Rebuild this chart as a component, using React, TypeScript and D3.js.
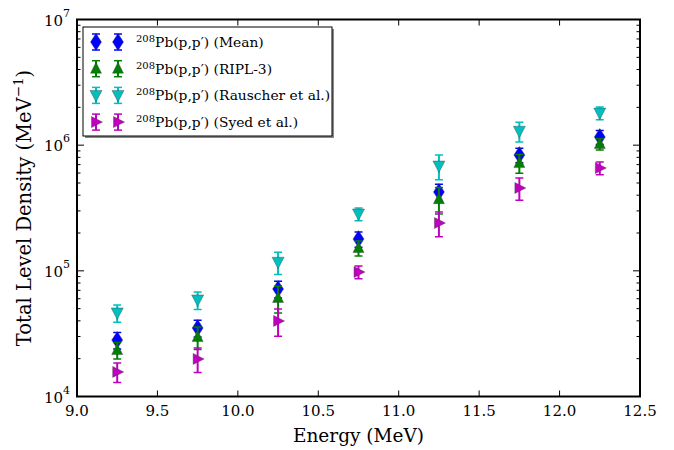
import React from 'react';
import * as d3 from 'd3';

const energies = [9.25, 9.75, 10.25, 10.75, 11.25, 11.75, 12.25];
const meanValues = [28100, 35100, 71700, 179000, 424000, 834000, 1160000];
const meanErrors = [4200, 5300, 11000, 25000, 65000, 110000, 150000];
const riplValues = [23400, 29700, 60800, 152000, 372000, 720000, 1020000];
const riplErrors = [3500, 6000, 14600, 21000, 89000, 122000, 106000];
const rauscherValues = [46200, 58600, 117000, 283000, 682000, 1290000, 1800000];
const rauscherErrors = [7300, 9300, 23400, 33000, 152000, 232000, 209000];
const syedValues = [15700, 19900, 39900, 97800, 240000, 456000, 658000];
const syedErrors = [2800, 4400, 9800, 11300, 53500, 91000, 76000];
const seriesLabels = ['(Mean)', '(RIPL-3)', '(Rauscher et al.)', '(Syed et al.)'];
const xTicks = [9.0, 9.5, 10.0, 10.5, 11.0, 11.5, 12.0, 12.5];
const yExponents = [4, 5, 6, 7];

type Shape = 'thin_diamond' | 'up' | 'down' | 'right';

function markerPath(shape: Shape, cx: number, cy: number): string {
  const p = d3.path();
  if (shape === 'thin_diamond') {
    p.moveTo(cx, cy - 8.5); p.lineTo(cx + 5.5, cy); p.lineTo(cx, cy + 8.5); p.lineTo(cx - 5.5, cy); p.closePath();
  } else if (shape === 'up') {
    p.moveTo(cx, cy - 6.5); p.lineTo(cx + 5.5, cy + 4.5); p.lineTo(cx - 5.5, cy + 4.5); p.closePath();
  } else if (shape === 'down') {
    p.moveTo(cx, cy + 6.5); p.lineTo(cx + 6, cy - 5); p.lineTo(cx - 6, cy - 5); p.closePath();
  } else {
    p.moveTo(cx + 6.5, cy); p.lineTo(cx - 4.5, cy + 5.5); p.lineTo(cx - 4.5, cy - 5.5); p.closePath();
  }
  return p.toString();
}

const FONT = "'DejaVu Serif', 'Liberation Serif', serif";

export default function App() {
  const W = 674, H = 450;
  const left = 77, right = 640, top = 19.5, bottom = 396.5;
  const x = d3.scaleLinear().domain([9, 12.5]).range([left, right]);
  const y = d3.scaleLog().domain([1e4, 1e7]).range([bottom, top]);

  const series = [
    { values: meanValues, errors: meanErrors, color: '#0000ff', shape: 'thin_diamond' as Shape },
    { values: riplValues, errors: riplErrors, color: '#008000', shape: 'up' as Shape },
    { values: rauscherValues, errors: rauscherErrors, color: '#00bfbf', shape: 'down' as Shape },
    { values: syedValues, errors: syedErrors, color: '#bf00bf', shape: 'right' as Shape },
  ];

  const minorY: number[] = [];
  for (let e = 4; e < 7; e++) for (let m = 2; m <= 9; m++) minorY.push(m * Math.pow(10, e));

  const cap = 4;

  return (
    <svg width={W} height={H} style={{ position: 'absolute', left: 0, top: 0, background: '#fff', fontFamily: FONT }}>
      <rect x={0} y={0} width={W} height={H} fill="#fff" />
      <defs>
        <clipPath id="clip">
          <rect x={left} y={top} width={right - left} height={bottom - top} />
        </clipPath>
      </defs>
      <g clipPath="url(#clip)">
        {series.map((s, si) => (
          <g key={si}>
            {energies.map((e, i) => {
              const cx = x(e);
              const y1 = y(s.values[i] + s.errors[i]);
              const y0 = y(s.values[i] - s.errors[i]);
              return (
                <g key={i}>
                  <line x1={cx} x2={cx} y1={y1} y2={y0} stroke={s.color} strokeWidth={2} />
                  <line x1={cx - cap} x2={cx + cap} y1={y1} y2={y1} stroke={s.color} strokeWidth={1.5} />
                  <line x1={cx - cap} x2={cx + cap} y1={y0} y2={y0} stroke={s.color} strokeWidth={1.5} />
                  <path d={markerPath(s.shape, cx, y(s.values[i]))} fill={s.color} stroke="#444" strokeWidth={0.6} strokeOpacity={0.7} />
                </g>
              );
            })}
          </g>
        ))}
      </g>
      <rect x={left} y={top} width={right - left} height={bottom - top} fill="none" stroke="#000" strokeWidth={2} />
      {xTicks.map((t, i) => (
        <g key={i}>
          <line x1={x(t)} x2={x(t)} y1={bottom} y2={bottom - 6} stroke="#000" strokeWidth={1} />
          <line x1={x(t)} x2={x(t)} y1={top} y2={top + 6} stroke="#000" strokeWidth={1} />
          <text x={x(t)} y={416} textAnchor="middle" fontSize={15}>{t.toFixed(1)}</text>
        </g>
      ))}
      {yExponents.map((ex, i) => {
        const v = Math.pow(10, ex);
        return (
          <g key={i}>
            <line x1={left} x2={left + 7} y1={y(v)} y2={y(v)} stroke="#000" strokeWidth={1} />
            <line x1={right} x2={right - 7} y1={y(v)} y2={y(v)} stroke="#000" strokeWidth={1} />
            <text x={63} y={y(v) + 6} textAnchor="end" fontSize={15}>10</text>
            <text x={63} y={y(v) - 3} textAnchor="start" fontSize={11}>{ex}</text>
          </g>
        );
      })}
      {minorY.map((v, i) => (
        <g key={i}>
          <line x1={left} x2={left + 3.5} y1={y(v)} y2={y(v)} stroke="#000" strokeWidth={1} />
          <line x1={right} x2={right - 3.5} y1={y(v)} y2={y(v)} stroke="#000" strokeWidth={1} />
        </g>
      ))}
      <text x={(left + right) / 2} y={442} textAnchor="middle" fontSize={18.5}>Energy (MeV)</text>
      <text transform={`translate(31, ${(top + bottom) / 2}) rotate(-90)`} textAnchor="middle" fontSize={19.5}>
        Total Level Density (MeV<tspan dy={-8} fontSize={13.5}>−1</tspan><tspan dy={8}>)</tspan>
      </text>
      <rect x={85} y={29} width={249} height={109} fill="#888" />
      <rect x={83} y={27} width={249} height={109} fill="#fff" stroke="#000" strokeWidth={1} />
      {series.map((s, si) => {
        const ry = 42 + si * 26.7;
        return (
          <g key={si}>
            {[96, 118].map((mx, k) => (
              <g key={k}>
                <line x1={mx} x2={mx} y1={ry - 8} y2={ry + 8} stroke={s.color} strokeWidth={2} />
                <line x1={mx - cap} x2={mx + cap} y1={ry - 8} y2={ry - 8} stroke={s.color} strokeWidth={1.5} />
                <line x1={mx - cap} x2={mx + cap} y1={ry + 8} y2={ry + 8} stroke={s.color} strokeWidth={1.5} />
                <path d={markerPath(s.shape, mx, ry)} fill={s.color} stroke="#444" strokeWidth={0.6} strokeOpacity={0.7} />
              </g>
            ))}
            <text x={136} y={ry + 5} fontSize={13.8}>
              <tspan fontSize={10} dy={-5}>208</tspan><tspan dy={5}>Pb(p,p′) {seriesLabels[si]}</tspan>
            </text>
          </g>
        );
      })}
    </svg>
  );
}
